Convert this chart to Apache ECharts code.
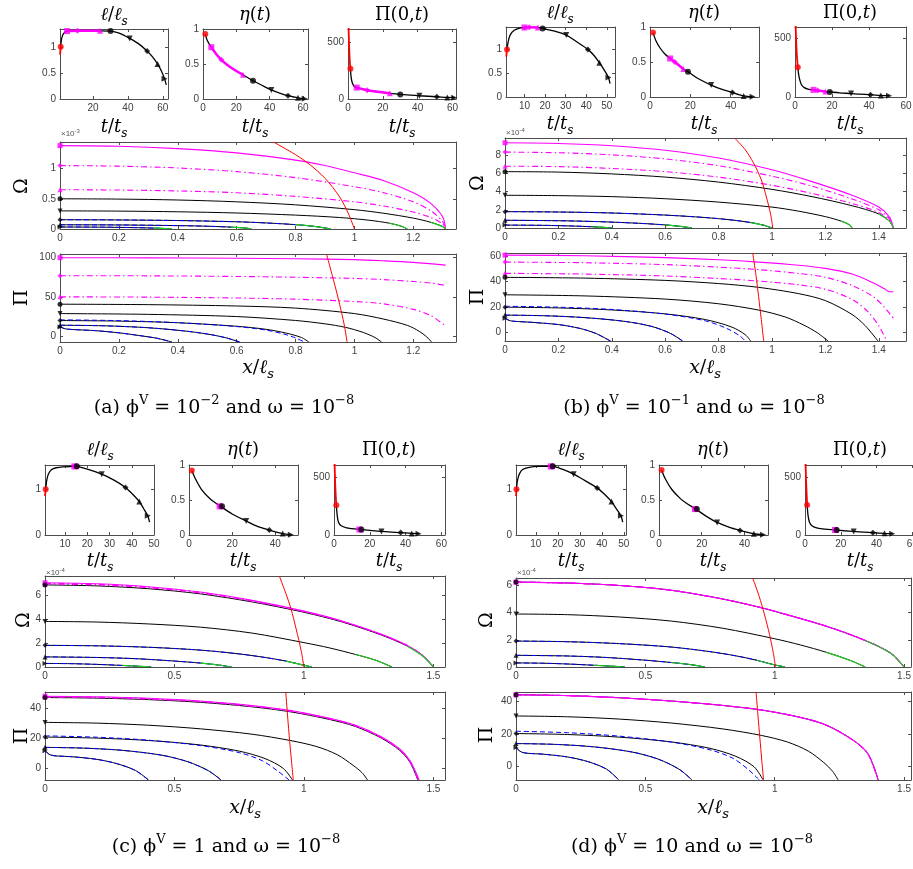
<!DOCTYPE html>
<html>
<head>
<meta charset="utf-8">
<script src="https://cdn.jsdelivr.net/npm/echarts@6/dist/echarts.min.js"></script>
<style>
html, body { margin: 0; padding: 0; background: #fff; }
#chart { width: 913px; height: 869px; }
</style>
</head>
<body>
<div id="chart"></div>
<script>
// ---------- (a) phi = 1e-2 ----------
const aMarkT = [1.4, 5, 11, 24, 30, 41, 51, 57, 61];
const aLenMark = [1.0, 1.3, 1.305, 1.305, 1.3, 1.16, 0.92, 0.67, 0.39];
const aEtaMark = [0.93, 0.74, 0.56, 0.345, 0.26, 0.13, 0.048, 0.017, 0.002];
const aPi0Mark = [265, 100, 77, 50, 40.6, 28.6, 19.7, 13.7, 11.5];
const aLen = [[1.4,1.0],[1.8,1.13],[2.5,1.22],[3.5,1.27],[5,1.3],[11,1.305],[24,1.305],[30,1.3],[35,1.26],[41,1.16],[46,1.06],[51,0.92],[54,0.81],[57,0.67],[59,0.55],[61,0.39],[62,0.27]];
const aLenMag = [[5,1.3],[11,1.305],[24,1.305]];
const aLenRed = [[1.05,0.85],[1.4,1.0]];
const aEta = [[1.4,0.93],[2.5,0.84],[5,0.74],[8,0.64],[11,0.56],[15,0.48],[20,0.4],[24,0.345],[30,0.26],[35,0.2],[41,0.13],[46,0.085],[51,0.048],[55,0.026],[57,0.017],[61,0.002]];
const aEtaMag = [[5,0.74],[8,0.64],[11,0.56],[15,0.48],[20,0.4],[24,0.345]];
const aPi0 = [[1.4,265],[1.8,190],[2.5,140],[3.5,112],[5,100],[8,88],[11,77],[17,63],[24,50],[30,40.6],[36,34],[41,28.6],[46,24],[51,19.7],[57,13.7],[61,11.5]];
const aPi0Mag = [[5,100],[8,88],[11,77],[17,63],[24,50]];
const aPi0Red = [[0.3,640],[0.6,480],[1.0,340],[1.4,265]];

const aOmMag0 = [[0,1.38],[0.2,1.37],[0.4,1.33],[0.6,1.26],[0.8,1.14],[0.9,1.05],[1.0,0.93],[1.1,0.8],[1.2,0.6],[1.26,0.42],[1.3,0.2],[1.31,0]];
const aOmMag1 = [[0,1.05],[0.2,1.04],[0.4,1.01],[0.6,0.95],[0.8,0.85],[1.0,0.7],[1.1,0.6],[1.2,0.45],[1.26,0.3],[1.3,0.12],[1.31,0]];
const aOmMag2 = [[0,0.65],[0.2,0.645],[0.4,0.63],[0.6,0.6],[0.8,0.54],[1.0,0.45],[1.1,0.38],[1.2,0.28],[1.26,0.19],[1.3,0.08],[1.31,0]];
const aOmBlk1 = [[0,0.5],[0.2,0.495],[0.4,0.48],[0.6,0.45],[0.8,0.4],[1.0,0.32],[1.1,0.26],[1.2,0.18],[1.26,0.11],[1.3,0.04],[1.31,0]];
const aOmBlk2 = [[0,0.3],[0.2,0.296],[0.4,0.285],[0.6,0.265],[0.8,0.23],[0.95,0.19],[1.05,0.145],[1.12,0.095],[1.16,0.045],[1.18,0]];
const aOmBlk3 = [[0,0.154],[0.2,0.15],[0.4,0.14],[0.6,0.12],[0.7,0.1],[0.8,0.072],[0.87,0.04],[0.92,0]];
const aOmBlk4 = [[0,0.07],[0.2,0.067],[0.4,0.056],[0.5,0.046],[0.58,0.031],[0.63,0.015],[0.65,0]];
const aOmBlk5 = [[0,0.033],[0.15,0.03],[0.25,0.023],[0.32,0.015],[0.36,0.007],[0.38,0]];
const aOmRed = [[0.725,1.44],[0.8,1.23],[0.85,1.06],[0.9,0.84],[0.95,0.53],[0.98,0.25],[1.0,0]];

const aPiMag0 = [[0,100],[0.3,99.8],[0.6,99.2],[0.8,98.6],[1.0,97.5],[1.1,96],[1.2,94],[1.31,90.5]];
const aPiMag1 = [[0,77],[0.3,76.8],[0.6,76],[0.8,75],[1.0,73.5],[1.1,72],[1.2,69.5],[1.26,67.5],[1.31,64.5]];
const aPiMag2 = [[0,50],[0.3,49.6],[0.6,48.5],[0.8,47],[1.0,44],[1.1,41],[1.2,34],[1.26,26],[1.31,12.5]];
const aPiBlk1 = [[0,40.6],[0.3,40],[0.6,38.3],[0.8,35.6],[1.0,28.6],[1.1,21.5],[1.18,13.5],[1.22,6],[1.245,-1],[1.262,-7.7]];
const aPiBlk2 = [[0,28.6],[0.3,27.6],[0.6,24.8],[0.8,19.8],[0.9,15.5],[0.97,11],[1.03,4.5],[1.07,-2],[1.092,-7.7]];
const aPiBlk3 = [[0,19.7],[0.2,19],[0.4,16.9],[0.6,12.4],[0.7,8.5],[0.77,3.5],[0.82,-2],[0.845,-7.7]];
const aPiBlue3 = [[0,20.6],[0.2,19.6],[0.4,17],[0.6,12],[0.7,7.5],[0.76,2.5],[0.8,-2.5],[0.83,-7.7]];
const aPiBlk4 = [[0,13.7],[0.15,13],[0.3,10.5],[0.42,6.5],[0.5,2.5],[0.56,-2],[0.61,-7.7]];
const aPiBlk5 = [[0,11.5],[0.02,9],[0.05,8.1],[0.12,6.8],[0.2,4],[0.27,0.5],[0.33,-3],[0.38,-7.7]];
const aPiRed = [[0.905,104.7],[0.93,70],[0.95,40],[0.965,15],[0.975,-7.7]];

// ---------- (b) phi = 1e-1 ----------
const bMarkT = [1.5, 10, 12.3, 16.5, 18.8, 30.3, 40.8, 46.4, 50.8];
const bLenMark = [1.0, 1.46, 1.465, 1.46, 1.44, 1.3, 1.0, 0.72, 0.41];
const bEtaMark = [0.92, 0.55, 0.5, 0.4, 0.36, 0.17, 0.065, 0.015, 0.002];
const bPi0Mark = [256, 61, 55.5, 46.6, 43.4, 29.6, 19.8, 13.5, 11];
const bLen = [[1.5,1.0],[2,1.15],[3,1.3],[5,1.4],[8,1.45],[10,1.46],[12.3,1.465],[16.5,1.46],[18.8,1.44],[24,1.39],[30.3,1.3],[35,1.17],[40.8,1.0],[44,0.86],[46.4,0.72],[49,0.55],[50.8,0.41],[51.6,0.28]];
const bLenMag = [[10,1.46],[12.3,1.465],[16.5,1.46]];
const bLenRed = [[1.1,0.85],[1.5,1.0]];
const bEta = [[1.5,0.92],[3,0.8],[5,0.7],[7.5,0.61],[10,0.55],[12.3,0.5],[16.5,0.4],[18.8,0.36],[24,0.26],[30.3,0.17],[35,0.115],[40.8,0.065],[44,0.035],[46.4,0.015],[50.8,0.002]];
const bEtaMag = [[10,0.55],[12.3,0.5],[16.5,0.4]];
const bPi0 = [[1.5,256],[2,190],[2.7,140],[3.5,105],[5,80],[7.5,66],[10,61],[12.3,55.5],[16.5,46.6],[18.8,43.4],[24,36],[30.3,29.6],[35,24],[40.8,19.8],[46.4,13.5],[50.8,11]];
const bPi0Mag = [[10,61],[12.3,55.5],[16.5,46.6]];
const bPi0Red = [[0.3,640],[0.6,490],[1.0,360],[1.5,256]];

const bOmMag0 = [[0,9.37],[0.2,9.3],[0.4,9.05],[0.6,8.55],[0.8,7.7],[1.0,6.4],[1.15,5.1],[1.3,3.6],[1.4,2.3],[1.44,1.2],[1.455,0]];
const bOmMag1 = [[0,8.35],[0.2,8.28],[0.4,8.05],[0.6,7.6],[0.8,6.85],[1.0,5.7],[1.15,4.6],[1.3,3.2],[1.4,2.0],[1.44,1.0],[1.455,0]];
const bOmMag2 = [[0,6.8],[0.2,6.75],[0.4,6.55],[0.6,6.2],[0.8,5.6],[1.0,4.7],[1.15,3.8],[1.3,2.7],[1.4,1.7],[1.44,0.8],[1.455,0]];
const bOmBlk1 = [[0,6.2],[0.2,6.15],[0.4,5.95],[0.6,5.6],[0.8,5.05],[1.0,4.25],[1.15,3.45],[1.3,2.45],[1.4,1.55],[1.44,0.75],[1.455,0]];
const bOmBlk2 = [[0,3.6],[0.2,3.56],[0.4,3.45],[0.6,3.22],[0.8,2.85],[1.0,2.3],[1.1,1.85],[1.2,1.25],[1.26,0.75],[1.29,0.35],[1.3,0]];
const bOmBlk3 = [[0,1.8],[0.2,1.76],[0.4,1.65],[0.6,1.42],[0.75,1.15],[0.85,0.88],[0.92,0.6],[0.97,0.3],[1.0,0]];
const bOmBlk4 = [[0,0.85],[0.2,0.8],[0.35,0.7],[0.5,0.52],[0.6,0.34],[0.66,0.17],[0.7,0]];
const bOmBlk5 = [[0,0.32],[0.15,0.29],[0.25,0.22],[0.33,0.13],[0.38,0.05],[0.4,0]];
const bOmRed = [[0.86,9.9],[0.9,8.6],[0.93,7.2],[0.96,5.3],[0.98,3.3],[0.995,1.5],[1.003,0]];

const bPiMag0 = [[0,61],[0.3,60.5],[0.6,59],[0.8,57.3],[0.95,55.5],[1.1,53],[1.2,50.5],[1.3,46],[1.38,39],[1.42,34.5],[1.44,32],[1.455,32]];
const bPiMag1 = [[0,55.5],[0.3,55],[0.6,53.5],[0.8,51.5],[0.95,49.5],[1.1,46.5],[1.2,43.5],[1.3,37],[1.38,28],[1.42,20],[1.455,11]];
const bPiMag2 = [[0,46.6],[0.3,46],[0.6,44.5],[0.8,42.5],[0.95,40.5],[1.1,37.5],[1.2,34],[1.3,26],[1.36,16],[1.4,5],[1.43,-7]];
const bPiBlk1 = [[0,43.4],[0.3,42.8],[0.6,41],[0.8,38.5],[0.95,35.5],[1.1,30.5],[1.2,25],[1.3,14],[1.35,5],[1.397,-7]];
const bPiBlk2 = [[0,29.6],[0.3,28.7],[0.6,26.2],[0.8,22.5],[0.95,17.5],[1.05,12],[1.12,5.5],[1.17,-0.5],[1.21,-7]];
const bPiBlk3 = [[0,19.8],[0.2,19.2],[0.4,17.6],[0.6,14.5],[0.75,10],[0.85,4],[0.9,-2],[0.92,-7]];
const bPiBlue3 = [[0,20.5],[0.2,19.8],[0.4,18],[0.6,14.3],[0.75,9],[0.83,3],[0.88,-3],[0.9,-7]];
const bPiBlk4 = [[0,13.5],[0.15,13],[0.3,11.5],[0.45,8.5],[0.55,4.5],[0.62,-1],[0.665,-7]];
const bPiBlk5 = [[0,11],[0.02,9],[0.05,8.4],[0.1,7.8],[0.2,6],[0.28,3],[0.34,-1],[0.395,-7]];
const bPiRed = [[0.928,62.7],[0.94,45],[0.95,28],[0.96,10],[0.969,-7]];

// ---------- (c) phi = 1 ----------
const cMarkT = [1.3, 14.2, 14.6, 15.0, 15.3, 26.5, 37.2, 43.4, 47.2];
const cLenMark = [1.0, 1.5, 1.5, 1.5, 1.5, 1.33, 1.04, 0.73, 0.42];
const cEtaMark = [0.92, 0.41, 0.41, 0.41, 0.41, 0.2, 0.07, 0.02, 0.002];
const cPi0Mark = [257, 48.2, 48.2, 48.2, 47.5, 30.7, 20.9, 14, 11.8];
const cLen = [[1.3,1.0],[1.8,1.2],[2.5,1.33],[4,1.43],[6,1.47],[9,1.49],[14.5,1.5],[20,1.44],[26.5,1.33],[32,1.2],[37.2,1.04],[40,0.91],[43.4,0.73],[45.3,0.58],[47.2,0.42],[48,0.28]];
const cLenRed = [[1.0,0.85],[1.3,1.0]];
const cEta = [[1.3,0.92],[3,0.8],[6,0.64],[10,0.51],[14.6,0.41],[20,0.3],[26.5,0.2],[32,0.12],[37.2,0.07],[40,0.045],[43.4,0.02],[47.2,0.002]];
const cPi0 = [[1.3,257],[1.8,170],[2.5,110],[4,80],[7,62],[10,55],[14.6,48.2],[20,40],[26.5,30.7],[32,25],[37.2,20.9],[43.4,14],[47.2,11.8]];
const cPi0Red = [[0.3,640],[0.6,470],[1.0,330],[1.3,257]];

const cOmMag0 = [[0,7.08],[0.2,7.0],[0.4,6.75],[0.6,6.3],[0.8,5.6],[1.0,4.7],[1.15,3.85],[1.3,2.75],[1.4,1.8],[1.46,0.95],[1.5,0]];
const cOmMag1 = [[0,7.03],[0.2,6.95],[0.4,6.7],[0.6,6.26],[0.8,5.57],[1.0,4.68],[1.15,3.83],[1.3,2.73],[1.4,1.79],[1.46,0.94],[1.5,0]];
const cOmMag2 = [[0,6.98],[0.2,6.9],[0.4,6.66],[0.6,6.22],[0.8,5.53],[1.0,4.65],[1.15,3.81],[1.3,2.71],[1.4,1.78],[1.46,0.93],[1.5,0]];
const cOmBlk1 = [[0,6.9],[0.2,6.82],[0.4,6.58],[0.6,6.15],[0.8,5.47],[1.0,4.6],[1.15,3.77],[1.3,2.68],[1.4,1.75],[1.46,0.9],[1.5,0]];
const cOmBlk2 = [[0,3.83],[0.2,3.78],[0.4,3.62],[0.6,3.35],[0.8,2.85],[1.0,2.05],[1.1,1.6],[1.2,1.05],[1.28,0.55],[1.34,0]];
const cOmBlk3 = [[0,1.82],[0.2,1.78],[0.4,1.66],[0.6,1.42],[0.75,1.1],[0.85,0.8],[0.93,0.5],[0.99,0.2],[1.03,0]];
const cOmBlk4 = [[0,0.85],[0.2,0.8],[0.35,0.7],[0.5,0.5],[0.6,0.33],[0.67,0.17],[0.72,0]];
const cOmBlk5 = [[0,0.3],[0.1,0.28],[0.2,0.22],[0.3,0.13],[0.37,0.05],[0.41,0]];
const cOmRed = [[0.905,7.65],[0.93,6.2],[0.95,4.9],[0.97,3.2],[0.99,1.3],[1.0,0]];

const cPiMag0 = [[0,48.2],[0.2,47.8],[0.4,46.8],[0.6,45],[0.8,42],[0.95,38.6],[1.1,33.5],[1.2,28.8],[1.3,21],[1.37,13],[1.41,5],[1.445,-7.8]];
const cPiMag1 = [[0,47.9],[0.2,47.5],[0.4,46.5],[0.6,44.7],[0.8,41.7],[0.95,38.3],[1.1,33.2],[1.2,28.5],[1.3,20.7],[1.37,12.6],[1.41,4.6],[1.443,-7.8]];
const cPiMag2 = [[0,47.6],[0.2,47.2],[0.4,46.2],[0.6,44.4],[0.8,41.4],[0.95,38],[1.1,32.9],[1.2,28.2],[1.3,20.4],[1.37,12.3],[1.41,4.3],[1.441,-7.8]];
const cPiBlk1 = [[0,47.3],[0.2,46.9],[0.4,45.9],[0.6,44.1],[0.8,41.1],[0.95,37.7],[1.1,32.6],[1.2,27.9],[1.3,20.1],[1.37,12],[1.41,4],[1.44,-7.8]];
const cPiBlk2 = [[0,30.7],[0.2,30.2],[0.4,28.8],[0.6,26.4],[0.8,22.8],[0.95,18.5],[1.05,14.5],[1.13,9],[1.19,2],[1.225,-3],[1.246,-7.8]];
const cPiBlk3 = [[0,20.9],[0.2,20.2],[0.4,18.6],[0.6,15.6],[0.75,11.5],[0.85,6.5],[0.92,0],[0.956,-7.8]];
const cPiBlue3 = [[0,21.7],[0.2,20.8],[0.4,18.8],[0.6,15.2],[0.75,10.5],[0.84,5],[0.9,-2],[0.943,-7.8]];
const cPiBlk4 = [[0,14],[0.15,13.5],[0.3,12],[0.45,8.8],[0.55,4.5],[0.63,-1.5],[0.68,-7.8]];
const cPiBlk5 = [[0,11.8],[0.02,9],[0.05,8.2],[0.1,7.8],[0.2,6],[0.28,3],[0.35,-1.5],[0.4,-7.8]];
const cPiRed = [[0.93,51],[0.937,35],[0.945,18],[0.952,5],[0.959,-7.8]];

// ---------- (d) phi = 10 ----------
const dMarkT = [1.2, 16.8, 17.1, 17.4, 17.7, 27.2, 37.9, 44.4, 48.7];
const dLenMark = [1.0, 1.5, 1.5, 1.5, 1.5, 1.33, 1.03, 0.73, 0.42];
const dEtaMark = [0.93, 0.37, 0.37, 0.37, 0.37, 0.18, 0.065, 0.018, 0.002];
const dPi0Mark = [260, 43.8, 43.8, 43.8, 43.2, 30.9, 20.2, 14.1, 11.7];
const dLen = [[1.2,1.0],[1.7,1.2],[2.5,1.33],[4,1.43],[7,1.48],[11,1.5],[17.2,1.5],[22,1.44],[27.2,1.33],[32,1.2],[37.9,1.03],[41,0.9],[44.4,0.73],[46.5,0.58],[48.7,0.42],[49.5,0.28]];
const dLenRed = [[1.0,0.85],[1.2,1.0]];
const dEta = [[1.2,0.93],[3,0.8],[6,0.65],[10,0.52],[13,0.45],[17.2,0.37],[22,0.27],[27.2,0.18],[33,0.11],[37.9,0.065],[41,0.04],[44.4,0.018],[48.7,0.002]];
const dPi0 = [[1.2,260],[1.7,170],[2.5,110],[4,78],[7,60],[11,51],[17.2,43.8],[22,37],[27.2,30.9],[33,25],[37.9,20.2],[44.4,14.1],[48.7,11.7]];
const dPi0Red = [[0.3,640],[0.6,470],[1.0,330],[1.2,260]];

const dOmMag = [[0,6.25],[0.2,6.18],[0.4,6.0],[0.6,5.65],[0.8,5.0],[0.93,4.45],[1.0,4.1],[1.2,3.0],[1.35,1.95],[1.45,1.0],[1.5,0]];
const dOmBlk2 = [[0,3.9],[0.2,3.85],[0.4,3.68],[0.6,3.38],[0.8,2.85],[1.0,2.08],[1.1,1.62],[1.2,1.08],[1.29,0.5],[1.35,0]];
const dOmBlk3 = [[0,1.91],[0.2,1.86],[0.4,1.72],[0.6,1.47],[0.75,1.13],[0.85,0.82],[0.93,0.5],[0.99,0.2],[1.04,0]];
const dOmBlk4 = [[0,0.86],[0.2,0.81],[0.35,0.7],[0.5,0.5],[0.6,0.33],[0.68,0.16],[0.73,0]];
const dOmBlk5 = [[0,0.3],[0.1,0.28],[0.2,0.22],[0.3,0.13],[0.38,0.05],[0.42,0]];
const dOmRed = [[0.915,6.55],[0.94,5.2],[0.96,3.9],[0.98,2.4],[0.995,1.0],[1.003,0]];

const dPiMag = [[0,43.8],[0.2,43.3],[0.4,42],[0.6,40],[0.8,37.3],[0.95,34.5],[1.1,30],[1.2,25.3],[1.3,16.5],[1.36,8],[1.4,-8]];
const dPiBlk2 = [[0,30.9],[0.2,30.4],[0.4,29],[0.6,26.6],[0.8,23],[0.95,19],[1.05,15],[1.13,9.5],[1.19,2.5],[1.225,-3],[1.245,-8]];
const dPiBlk3 = [[0,20.2],[0.2,19.6],[0.4,18],[0.6,15.1],[0.75,11.2],[0.85,6.3],[0.92,0],[0.955,-8]];
const dPiBlue3 = [[0,21.6],[0.2,20.7],[0.4,18.6],[0.6,15],[0.75,10.3],[0.84,5],[0.9,-2],[0.94,-8]];
const dPiBlk4 = [[0,14.1],[0.15,13.6],[0.3,12.1],[0.45,8.9],[0.55,4.6],[0.63,-1.5],[0.68,-8]];
const dPiBlk5 = [[0,11.7],[0.02,9],[0.05,8.1],[0.1,7.7],[0.2,5.9],[0.28,3],[0.35,-1.5],[0.397,-8]];
const dPiRed = [[0.928,45.5],[0.935,32],[0.943,17],[0.95,4],[0.957,-8]];

// ---------- styles ----------
const BLK = '#000', MAG = '#ff00ff', RED = '#ff0000', BLUE = '#0000ff', GREEN = '#1fcc1f';
const AX = '#4d4d4d';
const SERIF = '"DejaVu Serif", serif';
const DASHDOT = [6, 3, 1.5, 3];
const MARK = [
  { symbol: 'circle', color: RED },
  { symbol: 'rect', color: MAG },
  { symbol: 'diamond', color: MAG },
  { symbol: 'triangle', color: MAG },
  { symbol: 'circle', color: BLK },
  { symbol: 'triangle', rot: 180, color: BLK },
  { symbol: 'diamond', color: BLK },
  { symbol: 'triangle', color: BLK },
  { symbol: 'triangle', rot: -90, color: BLK }
];

const grids = [], xAxes = [], yAxes = [], series = [], texts = [];

function axis(g, pos, r, ticks, labels) {
  return {
    type: 'value', gridIndex: g, position: pos, min: r[0], max: r[1],
    axisLine: { show: true, onZero: false, lineStyle: { color: AX, width: 1 } },
    axisTick: { show: true, inside: true, length: 3, customValues: ticks, lineStyle: { color: AX } },
    axisLabel: { show: labels, customValues: ticks, color: '#404040', fontSize: 10,
                 fontFamily: 'Liberation Sans', margin: 4, hideOverlap: false },
    splitLine: { show: false }
  };
}

function addPlot(box, xr, xt, yr, yt) {
  const g = grids.length;
  grids.push({ left: box[0], top: box[1], width: box[2], height: box[3], outerBoundsMode: 'none' });
  xAxes.push(axis(g, 'bottom', xr, xt, true), axis(g, 'top', xr, xt, false));
  yAxes.push(axis(g, 'left', yr, yt, true), axis(g, 'right', yr, yt, false));
  return 2 * g;
}

function addLine(ai, data, color, width, type) {
  series.push({
    type: 'line', xAxisIndex: ai, yAxisIndex: ai, data: data,
    showSymbol: false, symbol: 'none', smooth: 0.3,
    lineStyle: { color: color, width: width, type: type || 'solid' },
    silent: true, animation: false
  });
}

function addMarks(ai, pts, styles, size) {
  series.push({
    type: 'scatter', xAxisIndex: ai, yAxisIndex: ai, symbolSize: size, z: 5,
    silent: true, animation: false,
    data: pts.map((p, i) => ({
      value: p, symbol: styles[i].symbol, symbolRotate: styles[i].rot || 0,
      itemStyle: { color: styles[i].color }
    }))
  });
}

function small(box, xr, xt, yr, yt, curve, mag, red, markT, markY) {
  const ai = addPlot(box, xr, xt, yr, yt);
  addLine(ai, curve, BLK, 1.3);
  if (mag) addLine(ai, mag, MAG, 2.5);
  if (red) addLine(ai, red, RED, 1.8);
  addMarks(ai, markT.map((t, i) => [t, markY[i]]), MARK, 6);
}

function profiles(box, xr, xt, yr, yt, prof, blue, red, green) {
  const ai = addPlot(box, xr, xt, yr, yt);
  prof.slice(3).forEach(p => addLine(ai, p, BLK, 1));
  blue.forEach(p => addLine(ai, p, BLUE, 1, [5, 3]));
  addLine(ai, prof[2], MAG, 1.1, DASHDOT);
  addLine(ai, prof[1], MAG, 1.1, DASHDOT);
  addLine(ai, prof[0], MAG, 1.1);
  if (green) prof.slice(3).forEach(p => addLine(ai, p.slice(-3), GREEN, 1.2));
  addLine(ai, red, RED, 1);
  addMarks(ai, prof.map(p => p[0]), MARK.slice(1), 5);
}

function rich(fs) {
  const sub = Math.round(fs * 0.68);
  return {
    n: { fontFamily: SERIF, fontSize: fs, lineHeight: fs + 8, fill: '#000' },
    i: { fontFamily: SERIF, fontStyle: 'italic', fontSize: fs, lineHeight: fs + 8, fill: '#000' },
    s: { fontFamily: SERIF, fontStyle: 'italic', fontSize: sub, lineHeight: sub, verticalAlign: 'bottom', fill: '#000' },
    u: { fontFamily: SERIF, fontSize: sub, lineHeight: sub, verticalAlign: 'top', fill: '#000' },
    a: { fontFamily: 'Liberation Sans', fontSize: 8, lineHeight: 12, fill: '#555' },
    b: { fontFamily: 'Liberation Sans', fontSize: 6, lineHeight: 6, verticalAlign: 'top', fill: '#555' }
  };
}

function txt(x, y, text, fs, rot, align) {
  texts.push({
    type: 'text', x: x, y: y, rotation: rot || 0, silent: true,
    style: { text: text, rich: rich(fs), fontFamily: SERIF, fontSize: fs, fill: '#000',
             align: align || 'center', verticalAlign: 'middle' }
  });
}

const T_LEN = '{i|ℓ}{n|/}{i|ℓ}{s|s}';
const T_ETA = '{i|η}{n|(}{i|t}{n|)}';
const T_PI0 = '{n|Π(0,}{i|t}{n|)}';
const T_T = '{i|t}{n|/}{i|t}{s|s}';
const T_X = '{i|x}{n|/}{i|ℓ}{s|s}';

function heads(cx, ty, by) {
  [T_LEN, T_ETA, T_PI0].forEach((t, i) => { txt(cx[i], ty, t, 18); txt(cx[i], by, T_T, 18); });
}

// ---------- panel (a) ----------
small([60, 29, 108, 70], [1, 63], [20, 40, 60], [0, 1.34], [0, 0.5, 1], aLen, aLenMag, aLenRed, aMarkT, aLenMark);
small([203, 29, 105, 70], [0, 63], [0, 20, 40, 60], [0, 1], [0, 0.5, 1], aEta, aEtaMag, null, aMarkT, aEtaMark);
small([348, 29, 108, 70], [0, 62], [0, 20, 40, 60], [0, 615], [0, 500], aPi0, aPi0Mag, aPi0Red, aMarkT, aPi0Mark);
profiles([60, 142, 396, 87], [0, 1.345], [0, 0.2, 0.4, 0.6, 0.8, 1, 1.2], [0, 1.44], [0, 0.5, 1],
  [aOmMag0, aOmMag1, aOmMag2, aOmBlk1, aOmBlk2, aOmBlk3, aOmBlk4, aOmBlk5], [aOmBlk3, aOmBlk4, aOmBlk5], aOmRed, true);
profiles([60, 254, 396, 88], [0, 1.345], [0, 0.2, 0.4, 0.6, 0.8, 1, 1.2], [-7.7, 104.7], [0, 50, 100],
  [aPiMag0, aPiMag1, aPiMag2, aPiBlk1, aPiBlk2, aPiBlk3, aPiBlk4, aPiBlk5], [aPiBlue3, aPiBlk4, aPiBlk5], aPiRed, false);
heads([114, 255, 402], 15, 127);
txt(61, 134, '{a|×10}{b|-3}', 8, 0, 'left');
txt(22, 186, 'Ω', 19, Math.PI / 2);
txt(22, 298, 'Π', 19, Math.PI / 2);
txt(258, 368, T_X, 19);
txt(224, 408, '{n|(a) ϕ}{u|V}{n| = 10}{u|−2}{n| and ω = 10}{u|−8}', 19);

// ---------- panel (b) ----------
small([506, 27, 109, 70], [1, 54], [10, 20, 30, 40, 50], [0, 1.47], [0, 0.5, 1], bLen, bLenMag, bLenRed, bMarkT, bLenMark);
small([650, 27, 109, 70], [0, 54], [0, 20, 40], [0, 1], [0, 0.5, 1], bEta, bEtaMag, null, bMarkT, bEtaMark);
small([795, 27, 111, 70], [0, 60], [0, 20, 40, 60], [0, 600], [0, 500], bPi0, bPi0Mag, bPi0Red, bMarkT, bPi0Mark);
profiles([505, 138, 401, 90], [0, 1.502], [0, 0.2, 0.4, 0.6, 0.8, 1, 1.2, 1.4], [0, 9.9], [0, 2, 4, 6, 8],
  [bOmMag0, bOmMag1, bOmMag2, bOmBlk1, bOmBlk2, bOmBlk3, bOmBlk4, bOmBlk5], [bOmBlk3, bOmBlk4, bOmBlk5], bOmRed, true);
profiles([505, 253, 401, 88], [0, 1.502], [0, 0.2, 0.4, 0.6, 0.8, 1, 1.2, 1.4], [-7, 62.7], [0, 20, 40, 60],
  [bPiMag0, bPiMag1, bPiMag2, bPiBlk1, bPiBlk2, bPiBlk3, bPiBlk4, bPiBlk5], [bPiBlue3, bPiBlk4, bPiBlk5], bPiRed, false);
heads([560, 704, 850], 13, 124);
txt(506, 133, '{a|×10}{b|-4}', 8, 0, 'left');
txt(478, 183, 'Ω', 19, Math.PI / 2);
txt(478, 297, 'Π', 19, Math.PI / 2);
txt(705, 368, T_X, 19);
txt(694, 408, '{n|(b) ϕ}{u|V}{n| = 10}{u|−1}{n| and ω = 10}{u|−8}', 19);

// ---------- panel (c) ----------
small([45, 465, 109, 70], [1, 50], [10, 20, 30, 40, 50], [0, 1.53], [0, 1], cLen, null, cLenRed, cMarkT, cLenMark);
small([189, 465, 109, 70], [0, 50.5], [0, 20, 40], [0, 1], [0, 0.5, 1], cEta, null, null, cMarkT, cEtaMark);
small([334, 465, 111, 70], [0, 62], [0, 20, 40, 60], [0, 606], [0, 500], cPi0, null, cPi0Red, cMarkT, cPi0Mark);
profiles([45, 576, 400, 91], [0, 1.545], [0, 0.5, 1, 1.5], [0, 7.65], [0, 2, 4, 6],
  [cOmMag0, cOmMag1, cOmMag2, cOmBlk1, cOmBlk2, cOmBlk3, cOmBlk4, cOmBlk5], [cOmBlk3, cOmBlk4, cOmBlk5], cOmRed, true);
profiles([45, 692, 400, 88], [0, 1.545], [0, 0.5, 1, 1.5], [-7.8, 51], [0, 20, 40],
  [cPiMag0, cPiMag1, cPiMag2, cPiBlk1, cPiBlk2, cPiBlk3, cPiBlk4, cPiBlk5], [cPiBlue3, cPiBlk4, cPiBlk5], cPiRed, false);
heads([100, 243, 389], 450, 561);
txt(46, 573, '{a|×10}{b|-4}', 8, 0, 'left');
txt(24, 620, 'Ω', 19, Math.PI / 2);
txt(22, 736, 'Π', 19, Math.PI / 2);
txt(245, 808, T_X, 19);
txt(226, 847, '{n|(c) ϕ}{u|V}{n| = 1 and ω = 10}{u|−8}', 19);

// ---------- panel (d) ----------
small([516, 465, 110, 70], [1, 51], [10, 20, 30, 40, 50], [0, 1.53], [0, 1], dLen, null, dLenRed, dMarkT, dLenMark);
small([659, 465, 109, 70], [0, 51], [0, 20, 40], [0, 1], [0, 0.5, 1], dEta, null, null, dMarkT, dEtaMark);
small([805, 465, 111, 70], [0, 62], [0, 20, 40, 60], [0, 607], [0, 500], dPi0, null, dPi0Red, dMarkT, dPi0Mark);
profiles([516, 578, 395, 89], [0, 1.527], [0, 0.5, 1, 1.5], [0, 6.55], [0, 2, 4, 6],
  [dOmMag, dOmMag, dOmMag, dOmMag, dOmBlk2, dOmBlk3, dOmBlk4, dOmBlk5], [dOmBlk3, dOmBlk4, dOmBlk5], dOmRed, true);
profiles([516, 692, 395, 88], [0, 1.527], [0, 0.5, 1, 1.5], [-8.1, 45.5], [0, 20, 40],
  [dPiMag, dPiMag, dPiMag, dPiMag, dPiBlk2, dPiBlk3, dPiBlk4, dPiBlk5], [dPiBlue3, dPiBlk4, dPiBlk5], dPiRed, false);
heads([571, 713, 860], 450, 561);
txt(517, 573, '{a|×10}{b|-4}', 8, 0, 'left');
txt(487, 620, 'Ω', 19, Math.PI / 2);
txt(487, 735, 'Π', 19, Math.PI / 2);
txt(713, 808, T_X, 19);
txt(692, 847, '{n|(d) ϕ}{u|V}{n| = 10 and ω = 10}{u|−8}', 19);

const myChart = echarts.init(document.getElementById('chart'));
myChart.setOption({
  animation: false,
  backgroundColor: '#fff',
  grid: grids,
  xAxis: xAxes,
  yAxis: yAxes,
  series: series,
  graphic: texts
});
window.addEventListener('resize', function () { myChart.resize(); });
</script>
</body>
</html>
